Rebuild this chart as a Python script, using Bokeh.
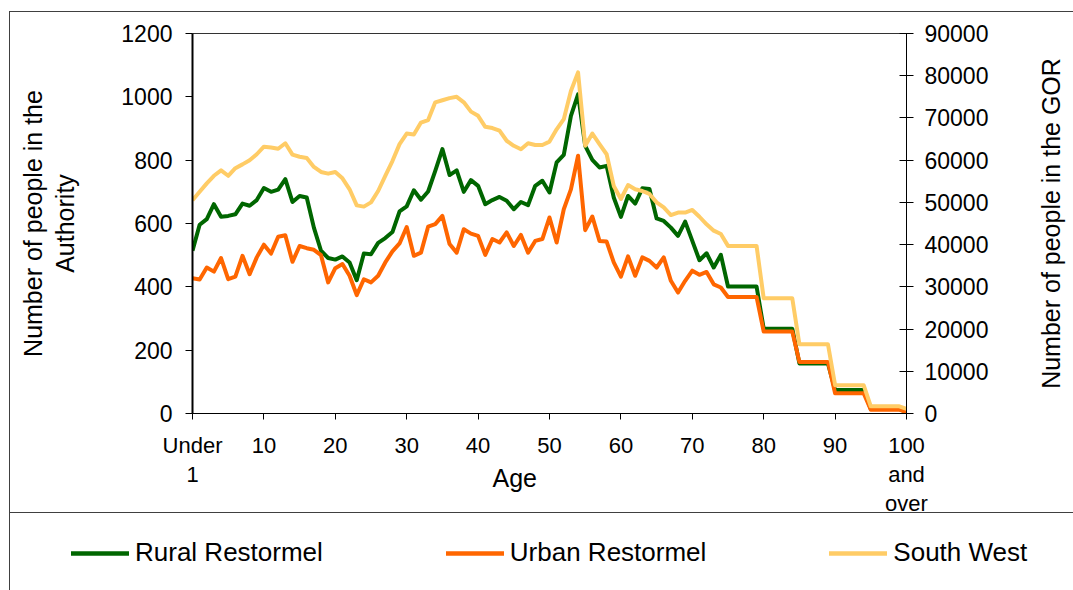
from bokeh.plotting import figure
from bokeh.layouts import row
from bokeh.models import (LinearAxis, Range1d, FixedTicker, Legend, LegendItem,
                          ColumnDataSource, InlineStyleSheet)
from bokeh.embed import file_html
from bokeh.resources import INLINE

# ---------------- data ----------------
ages = list(range(101))

rural = [514, 596, 614, 661, 621, 624, 629, 663, 656, 674,
         712, 700, 707, 740, 668, 687, 682, 587, 514, 491,
         486, 496, 477, 421, 505, 503, 539, 554, 573, 638,
         654, 705, 675, 701, 766, 835, 753, 768, 700, 737,
         719, 661, 674, 684, 672, 645, 668, 658, 719, 735,
         698, 793, 817, 940, 1008, 845, 801, 777, 782, 682,
         621, 687, 663, 711, 709, 616, 608, 587, 561, 606,
         545, 484, 506, 461, 501, 401, 401, 401, 401, 401,
         268, 268, 268, 268, 268, 158, 158, 158, 158, 158,
         74, 74, 74, 74, 74, 14, 14, 14, 14, 14,
         5]

urban = [427, 423, 461, 448, 491, 424, 432, 498, 440, 493,
         533, 505, 558, 563, 479, 529, 522, 517, 500, 414,
         459, 472, 435, 374, 424, 414, 435, 477, 512, 537,
         589, 498, 508, 590, 598, 624, 535, 508, 582, 568,
         561, 501, 551, 540, 572, 529, 564, 508, 545, 551,
         619, 540, 645, 708, 814, 579, 622, 545, 543, 477,
         432, 496, 435, 493, 482, 461, 493, 419, 382, 419,
         451, 438, 447, 408, 398, 368, 368, 368, 368, 368,
         259, 259, 259, 259, 259, 163, 163, 163, 163, 163,
         64, 64, 64, 64, 64, 12, 12, 12, 12, 12,
         4]

south_west = [50500, 52500, 54500, 56300, 57600, 56300, 58100, 59000, 60000, 61400,
              63200, 63000, 62700, 64000, 61300, 60800, 60500, 58400, 57200, 56800,
              57200, 55700, 53100, 49300, 49000, 50000, 52700, 56300, 59800, 63800,
              66300, 66100, 68900, 69500, 73700, 74200, 74700, 75000, 73700, 71500,
              70500, 67900, 67600, 67000, 64600, 63400, 62600, 64000, 63600, 63600,
              64400, 67300, 69700, 76400, 80800, 63400, 66300, 63800, 61400, 53900,
              50800, 54100, 53100, 52700, 52000, 50000, 48800, 47000, 47600, 47600,
              48200, 46600, 44800, 43300, 42500, 39700, 39700, 39700, 39700, 39700,
              27300, 27300, 27300, 27300, 27300, 16400, 16400, 16400, 16400, 16400,
              6700, 6700, 6700, 6700, 6700, 1700, 1700, 1700, 1700, 1700,
              1100]

x_ticks = [0, 10, 20, 30, 40, 50, 60, 70, 80, 90, 100]
x_tick_labels = {0: "Under\n1", 100: "100\nand\nover"}
left_ticks = [0, 200, 400, 600, 800, 1000, 1200]
right_ticks = [0, 10000, 20000, 30000, 40000, 50000, 60000, 70000, 80000, 90000]

series_names = ["Rural Restormel", "Urban Restormel", "South West"]
series_colors = ["#006600", "#FF6600", "#FFCC66"]

FONT = "Liberation Sans"
NBSP = "\u00a0"

top_css = """
:host { position: relative; }
:host::before {
  content: ""; position: absolute; left: 9px; top: 11px; width: 1064px; height: 509px;
  border-left: 1.5px solid #404040; border-top: 1.5px solid #404040;
  box-sizing: border-box; pointer-events: none; z-index: 20;
}
:host::after {
  content: ""; position: absolute; left: 9px; top: 512px; width: 1064px; height: 0px;
  border-top: 1.5px solid #404040; pointer-events: none; z-index: 20;
}
"""
bottom_css = """
:host { position: relative; }
:host::before {
  content: ""; position: absolute; left: 9px; top: 0px; width: 0px; height: 70px;
  border-left: 1.5px solid #404040; pointer-events: none; z-index: 20;
}
"""

# ---------------- chart figure ----------------
p = figure(width=1020, height=520, output_backend="svg", toolbar_location=None,
           x_range=Range1d(0, 100), y_range=Range1d(0, 1200),
           min_border_left=192, min_border_right=114,
           min_border_top=33, min_border_bottom=107)
p.extra_y_ranges = {"gor": Range1d(0, 90000)}
p.grid.visible = False
p.outline_line_color = "#333333"
p.outline_line_width = 1
p.background_fill_color = "white"
p.border_fill_color = "white"

# bottom axis
xa = p.xaxis[0]
xa.ticker = FixedTicker(ticks=x_ticks)
xa.major_label_overrides = x_tick_labels
xa.major_label_text_font = FONT
xa.major_label_text_font_size = "22px"
xa.major_label_text_color = "black"
xa.major_label_text_line_height = 1.17
xa.major_label_standoff = 13
xa.major_tick_out = 6
xa.major_tick_in = 0
xa.minor_tick_out = 0
xa.minor_tick_in = 0
xa.axis_line_color = "black"
xa.major_tick_line_color = "black"
xa.axis_label = "Age" + NBSP * 10
xa.axis_label_text_font = FONT
xa.axis_label_text_font_size = "25px"
xa.axis_label_text_font_style = "normal"
xa.axis_label_text_color = "black"
xa.axis_label_standoff = -55

# left axis
ya = p.yaxis[0]
ya.ticker = FixedTicker(ticks=left_ticks)
ya.major_label_text_font = FONT
ya.major_label_text_font_size = "23px"
ya.major_label_text_color = "black"
ya.major_label_standoff = 13
ya.major_tick_out = 7
ya.major_tick_in = 0
ya.minor_tick_out = 0
ya.minor_tick_in = 0
ya.axis_line_color = "black"
ya.axis_line_width = 2
ya.major_tick_line_color = "black"
ya.axis_label = "Number of people in the\nAuthority"
ya.axis_label_text_font = FONT
ya.axis_label_text_font_size = "25px"
ya.axis_label_text_font_style = "normal"
ya.axis_label_text_color = "black"
ya.axis_label_text_line_height = 1.17
ya.axis_label_standoff = 39

# right axis (ticks and numbers)
ra = LinearAxis(y_range_name="gor", ticker=FixedTicker(ticks=right_ticks))
ra.major_label_text_font = FONT
ra.major_label_text_font_size = "23px"
ra.major_label_text_color = "black"
ra.major_label_standoff = 11
ra.major_tick_out = 7
ra.major_tick_in = 7
ra.minor_tick_out = 0
ra.minor_tick_in = 0
ra.axis_line_color = "black"
ra.major_tick_line_color = "black"
p.add_layout(ra, "right")

# ---------------- lines ----------------
src = ColumnDataSource(dict(age=ages, rural=rural, urban=urban, sw=south_west))
r1 = p.line("age", "rural", source=src, line_color=series_colors[0], line_width=4,
            line_join="round")
r2 = p.line("age", "urban", source=src, line_color=series_colors[1], line_width=4,
            line_join="round")
r3 = p.line("age", "sw", source=src, y_range_name="gor", line_color=series_colors[2],
            line_width=4, line_join="round")

# ---------------- right-hand title strip ----------------
t = figure(width=53, height=520, output_backend="svg", toolbar_location=None,
           x_range=Range1d(0, 1), y_range=Range1d(0, 1), x_axis_type=None,
           min_border_left=50, min_border_right=0,
           min_border_top=33, min_border_bottom=107)
t.grid.visible = False
t.outline_line_color = None
t.background_fill_color = "white"
t.border_fill_color = "white"
ta = t.yaxis[0]
ta.ticker = FixedTicker(ticks=[])
ta.major_tick_out = 0
ta.major_tick_in = 0
ta.minor_tick_out = 0
ta.minor_tick_in = 0
ta.axis_line_color = None
ta.major_label_standoff = 0
ta.axis_label = "Number of people in the GOR"
ta.axis_label_text_font = FONT
ta.axis_label_text_font_size = "25px"
ta.axis_label_text_font_style = "normal"
ta.axis_label_text_color = "black"
ta.axis_label_standoff = 6

top = row(p, t, spacing=0)
top.stylesheets = [InlineStyleSheet(css=top_css)]

# ---------------- legend figure ----------------
q = figure(width=1073, height=70, output_backend="svg", toolbar_location=None,
           x_range=Range1d(0, 1), y_range=Range1d(0, 1),
           x_axis_type=None, y_axis_type=None, min_border=0,
           min_border_left=0, min_border_right=0, min_border_top=0, min_border_bottom=0)
q.grid.visible = False
q.outline_line_color = None
q.background_fill_color = "white"
q.border_fill_color = "white"
q.stylesheets = [InlineStyleSheet(css=bottom_css)]
keys = []
for c in series_colors:
    keys.append(q.line(x=[-5, -4], y=[-5, -5], line_color=c, line_width=4.5,
                       line_cap="round"))

legend = Legend(items=[LegendItem(label=n, renderers=[r]) for n, r in
                       zip(series_names, keys)],
                orientation="horizontal", location=(71, 22),
                glyph_width=58, glyph_height=30, label_height=30,
                label_standoff=6, spacing=123, padding=0, margin=0,
                border_line_alpha=0, background_fill_alpha=0,
                label_text_font=FONT, label_text_font_size="26px",
                label_text_color="black", label_text_baseline="middle")
q.add_layout(legend, "center")

open("out.html", "w").write(file_html([top, q], INLINE))
